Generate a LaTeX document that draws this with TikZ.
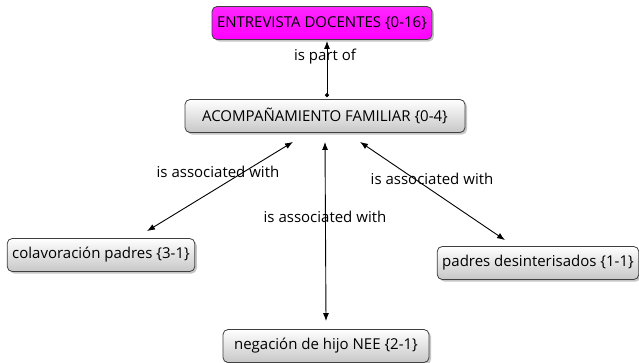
\documentclass[tikz,border=0pt]{standalone}
\usepackage{fontspec}
\setmainfont{Open Sans}
\usetikzlibrary{shadows, calc, arrows.meta}

\begin{document}
\begin{tikzpicture}[x=1pt, y=-1pt, >={Latex[length=8pt,width=6pt]},
    code/.style={draw=black!75, thick, rounded corners=5pt, minimum height=33pt, inner xsep=5pt,
        top color=white, bottom color=black!22, drop shadow={shadow xshift=2pt, shadow yshift=-2pt, opacity=0.45},
        font=\fontsize{15}{18}\selectfont},
    doc/.style={code, top color=magenta!85, bottom color=magenta},
    rel/.style={inner sep=2pt, font=\fontsize{15}{18}\selectfont}]

    \useasboundingbox (0,0) rectangle (639,362);

    \node[doc] (ent) at (322,23) {ENTREVISTA DOCENTES \{0-16\}};
    \node[code, minimum width=280pt] (aco) at (325,116) {ACOMPAÑAMIENTO FAMILIAR \{0-4\}};
    \node[code] (col) at (101,255) {colavoración padres \{3-1\}};
    \node[code] (pad) at (538,263) {padres desinterisados \{1-1\}};
    \node[code, minimum width=206pt] (neg) at (326,346) {negación de hijo NEE \{2-1\}};

    \coordinate (a0) at ($(aco.north)+(2,-2)$);
    \coordinate (e0) at ($(ent.south)+(5,1)$);
    \coordinate (a1) at ($(aco.south)+(-32,9)$);
    \coordinate (a2) at ($(aco.south)+(0,9)$);
    \coordinate (a3) at ($(aco.south)+(35,9)$);
    \coordinate (c1) at ($(col.north)+(46,-7)$);
    \coordinate (n1) at ($(neg.north)+(0,-8)$);
    \coordinate (p1) at ($(pad.north)+(-33,-6)$);

    \path[line width=0.9pt]
        (a0) edge[{Circle[length=4pt]}->] (e0)
        (a1) edge[<->] (c1)
        (a2) edge[<->] (n1)
        (a3) edge[<->] (p1)
        ;

    \node[rel] at (325,57) {is part of};
    \node[rel] at (218,172) {is associated with};
    \node[rel] at (325,217) {is associated with};
    \node[rel] at (432,179) {is associated with};
\end{tikzpicture}
\end{document}
